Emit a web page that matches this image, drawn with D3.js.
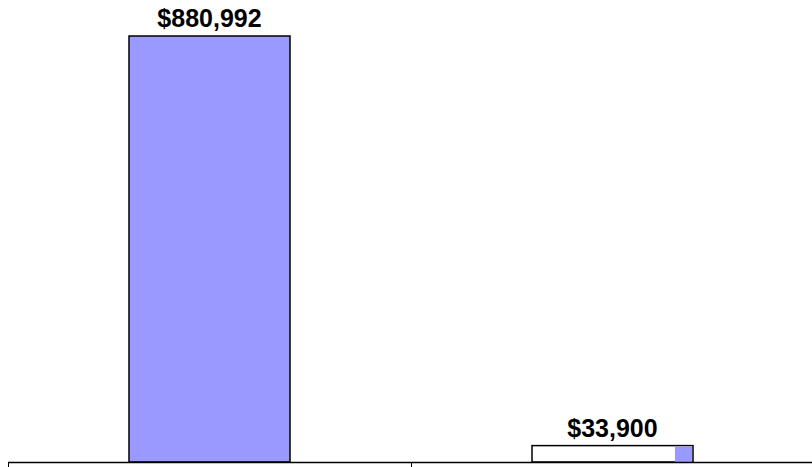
<!DOCTYPE html>
<html><head><meta charset="utf-8">
<script src="https://cdn.jsdelivr.net/npm/d3@7"></script>
<style>html,body{margin:0;padding:0;background:#fff;}svg{display:block;}</style>
</head><body>
<script>
const categories = ["A", "B"];
const values = [880992, 33900];
const labels = ["$880,992", "$33,900"];

const W = 812, H = 467;
const svg = d3.select("body").append("svg").attr("width", W).attr("height", H);
const x = d3.scaleBand().domain(categories).range([8, 814]).padding(0);
const y = d3.scaleLinear().domain([0, 880992]).range([462, 36]);
const bw = 161;

svg.selectAll("rect.bar").data(values).enter().append("rect")
  .attr("class","bar")
  .attr("x", (d,i) => x(categories[i]) + x.bandwidth()/2 - bw/2)
  .attr("y", d => y(d))
  .attr("width", bw)
  .attr("height", d => y(0) - y(d))
  .attr("fill", (d,i) => i === 0 ? "#9999ff" : "#ffffff")
  .attr("stroke", "#000").attr("stroke-width", 1.5);

// small coloured patch at the right end of the second bar
const b2x = x(categories[1]) + x.bandwidth()/2 - bw/2;
svg.append("rect")
  .attr("x", b2x + bw - 18).attr("y", y(values[1]) + 1)
  .attr("width", 17).attr("height", y(0) - y(values[1]) - 1)
  .attr("fill", "#9999ff");

svg.selectAll("text.lbl").data(values).enter().append("text")
  .attr("class","lbl")
  .attr("x", (d,i) => x(categories[i]) + x.bandwidth()/2)
  .attr("y", d => y(d) - 9)
  .attr("text-anchor", "middle")
  .attr("font-family", "Liberation Sans, Arial, sans-serif")
  .attr("font-weight", "bold").attr("font-size", 25)
  .text((d,i) => labels[i]);

// axis
svg.append("line").attr("x1", 8).attr("x2", 812).attr("y1", 462.5).attr("y2", 462.5)
  .attr("stroke", "#000").attr("stroke-width", 1.5);
svg.selectAll("line.tick").data(categories).enter().append("line")
  .attr("class","tick")
  .attr("x1", d => x(d) + 0.5).attr("x2", d => x(d) + 0.5)
  .attr("y1", 462).attr("y2", 467)
  .attr("stroke", "#000").attr("stroke-width", 1);
</script>
</body></html>
